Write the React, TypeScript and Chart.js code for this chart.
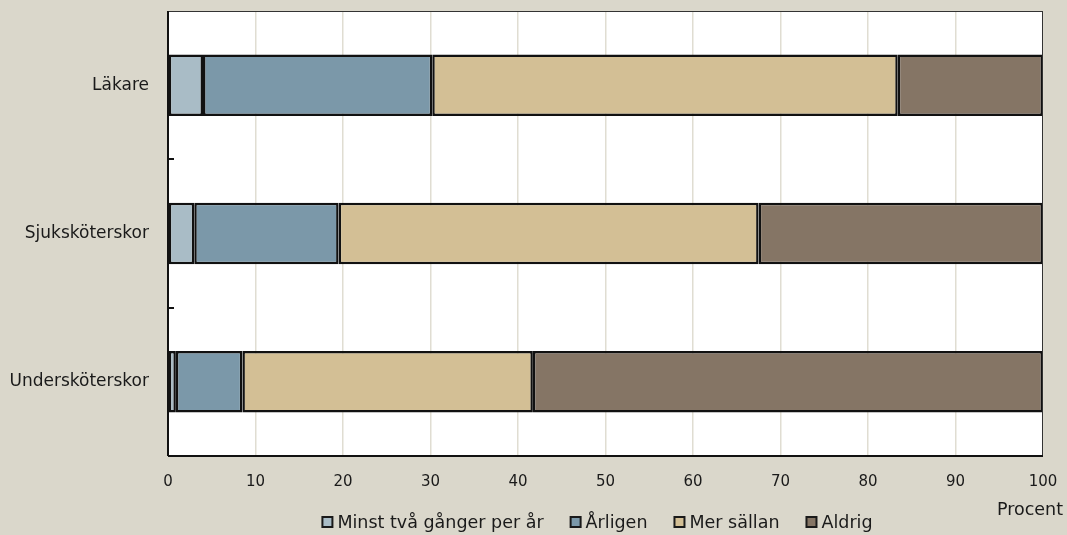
import React, { useEffect, useRef } from "react";
import { Chart, registerables } from "chart.js";

Chart.register(...registerables);

const categories = ["Läkare", "Sjuksköterskor", "Undersköterskor"];
const seriesNames = ["Minst två gånger per år", "Årligen", "Mer sällan", "Aldrig"];
const minstTva = [4.0, 3.0, 0.9];
const arligen = [26.2, 16.5, 7.6];
const merSallan = [53.2, 48.0, 33.2];
const aldrig = [16.6, 32.5, 58.3];
const seriesColors = ["#a9bcc6", "#7b98a9", "#d3bf95", "#857565"];
const xTicks = [0, 10, 20, 30, 40, 50, 60, 70, 80, 90, 100];
const axisTitle = "Procent";

const FONT = "'DejaVu Sans', sans-serif";
const BG = "#dad7cb";
const TXT = "#1a1a1a";

const decorPlugin = {
  id: "decor",
  beforeDraw(chart: any) {
    const { ctx, chartArea: a } = chart;
    ctx.save();
    ctx.fillStyle = BG;
    ctx.fillRect(0, 0, chart.width, chart.height);
    ctx.fillStyle = "#ffffff";
    ctx.fillRect(a.left, a.top, a.right - a.left, a.bottom - a.top);
    ctx.restore();
  },
  afterDraw(chart: any) {
    const { ctx, chartArea: a } = chart;
    const yScale = chart.scales.y;
    ctx.save();
    ctx.strokeStyle = "#333";
    ctx.lineWidth = 1;
    ctx.strokeRect(a.left + 0.5, a.top + 0.5, a.right - a.left - 1, a.bottom - a.top - 1);
    ctx.strokeStyle = "#111";
    ctx.lineWidth = 2;
    ctx.beginPath();
    ctx.moveTo(a.left, a.top);
    ctx.lineTo(a.left, a.bottom);
    ctx.moveTo(a.left, a.bottom);
    ctx.lineTo(a.right, a.bottom);
    ctx.stroke();
    for (let i = 1; i < categories.length; i++) {
      const y = Math.round(yScale.getPixelForValue(i - 0.5));
      ctx.beginPath();
      ctx.moveTo(a.left, y);
      ctx.lineTo(a.left + 6, y);
      ctx.stroke();
    }
    ctx.fillStyle = TXT;
    ctx.font = `17.5px ${FONT}`;
    ctx.textAlign = "right";
    ctx.textBaseline = "middle";
    ctx.fillText(axisTitle, chart.width - 4, 510);
    const box = 10;
    const gapBox = 5;
    const gapItem = 27;
    const widths = seriesNames.map((n) => ctx.measureText(n).width);
    const total =
      widths.reduce((s, w) => s + w + box + gapBox, 0) + gapItem * (seriesNames.length - 1);
    let x = (a.left + a.right) / 2 - 8 - total / 2;
    const yc = 522;
    ctx.textAlign = "left";
    seriesNames.forEach((n, i) => {
      ctx.fillStyle = seriesColors[i];
      ctx.fillRect(x, yc - box / 2, box, box);
      ctx.strokeStyle = "#1a1a1a";
      ctx.lineWidth = 2;
      ctx.strokeRect(x, yc - box / 2, box, box);
      ctx.fillStyle = TXT;
      ctx.fillText(n, x + box + gapBox, yc + 1);
      x += box + gapBox + widths[i] + gapItem;
    });
    ctx.restore();
  },
};

export default function App() {
  const ref = useRef<HTMLCanvasElement>(null);
  useEffect(() => {
    document.body.style.margin = "0";
    const values = [minstTva, arligen, merSallan, aldrig];
    const chart = new Chart(ref.current as HTMLCanvasElement, {
      type: "bar",
      data: {
        labels: categories,
        datasets: seriesNames.map((name, i) => ({
          label: name,
          data: values[i],
          backgroundColor: seriesColors[i],
          borderColor: "#111111",
          borderWidth: 2.5,
          borderSkipped: false,
          barPercentage: 0.415,
          categoryPercentage: 1,
        })),
      },
      options: {
        indexAxis: "y",
        animation: false,
        responsive: false,
        maintainAspectRatio: false,
        layout: { padding: { left: 0, right: 24, top: 11, bottom: 0 } },
        plugins: {
          legend: { display: false },
          tooltip: { enabled: false },
        },
        scales: {
          x: {
            stacked: true,
            min: 0,
            max: 100,
            afterBuildTicks: (scale: any) => {
              scale.ticks = xTicks.map((v) => ({ value: v }));
            },
            afterFit: (scale: any) => {
              scale.height = 79;
              scale.paddingLeft = 0;
              scale.paddingRight = 0;
              scale.paddingTop = 0;
              scale.paddingBottom = 0;
            },
            grid: {
              color: "#e0ddd2",
              lineWidth: 1.5,
              drawTicks: false,
            },
            border: { display: false },
            ticks: {
              padding: 17,
              color: TXT,
              font: { family: FONT, size: 15 },
              maxRotation: 0,
            },
          },
          y: {
            stacked: true,
            afterFit: (scale: any) => {
              scale.width = 168;
              scale.paddingLeft = 0;
              scale.paddingRight = 0;
              scale.paddingTop = 0;
              scale.paddingBottom = 0;
            },
            grid: { display: false, drawTicks: false },
            border: { display: false },
            ticks: {
              padding: 19,
              color: TXT,
              font: { family: FONT, size: 17 },
            },
          },
        },
      },
      plugins: [decorPlugin],
    } as any);
    return () => chart.destroy();
  }, []);
  return (
    <div style={{ position: "absolute", left: 0, top: 0, width: 1067, height: 535 }}>
      <canvas ref={ref} width={1067} height={535} style={{ width: 1067, height: 535 }} />
    </div>
  );
}
